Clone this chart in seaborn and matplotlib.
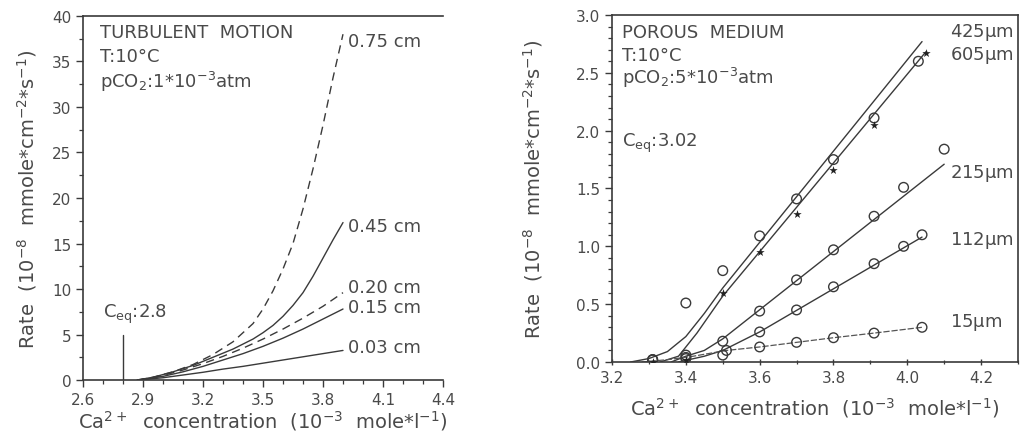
import numpy as np
import pandas as pd
import matplotlib
matplotlib.use("Agg")
import matplotlib.pyplot as plt
from matplotlib.ticker import MultipleLocator
import seaborn as sns

# ---------------- data: left panel (turbulent motion) ----------------
x075 = [2.87, 2.95, 3.05, 3.15, 3.25, 3.35, 3.45, 3.50, 3.55, 3.60, 3.65, 3.70, 3.75, 3.80, 3.85, 3.90]
y075 = [0.0, 0.3, 0.9, 1.7, 2.8, 4.2, 6.2, 7.8, 9.8, 12.2, 15.0, 18.8, 23.2, 28.0, 33.2, 38.0]
x045 = [2.87, 2.95, 3.05, 3.15, 3.25, 3.35, 3.45, 3.50, 3.55, 3.60, 3.65, 3.70, 3.75, 3.80, 3.85, 3.90]
y045 = [0.0, 0.3, 0.9, 1.6, 2.5, 3.4, 4.5, 5.2, 6.0, 7.0, 8.2, 9.6, 11.4, 13.4, 15.4, 17.3]
x020 = [2.88, 3.0, 3.1, 3.2, 3.3, 3.4, 3.5, 3.6, 3.7, 3.8, 3.9]
y020 = [0.0, 0.5, 1.1, 1.8, 2.6, 3.5, 4.5, 5.6, 6.8, 8.1, 9.6]
x015 = [2.88, 3.0, 3.1, 3.2, 3.3, 3.4, 3.5, 3.6, 3.7, 3.8, 3.9]
y015 = [0.0, 0.4, 0.9, 1.5, 2.2, 2.9, 3.7, 4.6, 5.6, 6.7, 7.8]
x003 = [2.88, 3.0, 3.1, 3.2, 3.3, 3.4, 3.5, 3.6, 3.7, 3.8, 3.9]
y003 = [0.0, 0.25, 0.55, 0.85, 1.2, 1.5, 1.85, 2.2, 2.55, 2.9, 3.25]
left_labels = ["0.75 cm", "0.45 cm", "0.20 cm", "0.15 cm", "0.03 cm"]
left_label_y = [37.3, 16.9, 10.2, 8.0, 3.6]
ceq_left = 2.8
ceq_left_top = 4.9

# ---------------- data: right panel (porous medium) ----------------
p425_x = [3.31, 3.40, 3.50, 3.60, 3.70, 3.80, 3.91, 4.03]
p425_y = [0.02, 0.51, 0.79, 1.09, 1.41, 1.75, 2.11, 2.60]
l425_x = [3.25, 3.30, 3.35, 3.40, 3.45, 3.50, 4.04]
l425_y = [0.0, 0.03, 0.09, 0.22, 0.42, 0.64, 2.77]

p605_x = [3.31, 3.40, 3.50, 3.60, 3.70, 3.80, 3.91, 4.05]
p605_y = [0.0, 0.02, 0.60, 0.95, 1.28, 1.66, 2.05, 2.67]
l605_x = [3.33, 3.38, 3.43, 3.50, 4.05]
l605_y = [0.0, 0.05, 0.25, 0.57, 2.68]

p215_x = [3.31, 3.40, 3.50, 3.60, 3.70, 3.80, 3.91, 3.99, 4.10]
p215_y = [0.02, 0.06, 0.18, 0.44, 0.71, 0.97, 1.26, 1.51, 1.84]
l215_x = [3.36, 3.40, 3.45, 3.50, 4.10]
l215_y = [0.0, 0.05, 0.10, 0.20, 1.71]

p112_x = [3.40, 3.50, 3.60, 3.70, 3.80, 3.91, 3.99, 4.04]
p112_y = [0.03, 0.06, 0.26, 0.45, 0.65, 0.85, 1.00, 1.10]
l112_x = [3.38, 3.45, 3.50, 3.60, 4.04]
l112_y = [0.0, 0.05, 0.10, 0.26, 1.08]

p15_x = [3.31, 3.40, 3.51, 3.60, 3.70, 3.80, 3.91, 4.04]
p15_y = [0.02, 0.04, 0.10, 0.13, 0.17, 0.21, 0.25, 0.30]
l15_x = [3.28, 3.35, 3.42, 3.51, 3.60, 3.70, 3.80, 3.91, 4.04]
l15_y = [0.0, 0.02, 0.05, 0.10, 0.13, 0.17, 0.21, 0.25, 0.30]

right_labels = ["425$\\mu$m", "605$\\mu$m", "215$\\mu$m", "112$\\mu$m", "15$\\mu$m"]
right_label_y = [2.86, 2.66, 1.64, 1.06, 0.35]

# ---------------- style ----------------
sns.set_theme(style="ticks")
plt.rcParams["font.family"] = ["DejaVu Sans"]
plt.rcParams["mathtext.default"] = "regular"
INK = "#3a3a3a"
TXT = "#4a4a4a"
FS = 11      # tick labels
FT = 13      # in-plot text
FL = 14      # axis labels

fig = plt.figure(figsize=(10.29, 4.39), dpi=100)
axL = fig.add_axes([0.0807, 0.1321, 0.3498, 0.8292])
axR = fig.add_axes([0.5948, 0.1731, 0.3945, 0.7905])

def style_axes(ax):
    for s in ax.spines.values():
        s.set_color(INK)
        s.set_linewidth(1.2)
    ax.tick_params(which="both", colors=INK, labelcolor=TXT, labelsize=FS)
    ax.tick_params(which="major", length=5, width=1.0)
    ax.tick_params(which="minor", length=3, width=0.9)

XLAB = "Ca$^{2+}$  concentration  (10$^{-3}$  mole$*$l$^{-1}$)"
YLAB = "Rate  (10$^{-8}$  mmole$*$cm$^{-2}$$*$s$^{-1}$)"

# ---------------- left panel ----------------
lw = 1.0
sns.lineplot(x=x075, y=y075, ax=axL, color=INK, lw=lw, linestyle=(0, (6, 4)))
sns.lineplot(x=x045, y=y045, ax=axL, color=INK, lw=lw)
sns.lineplot(x=x020, y=y020, ax=axL, color=INK, lw=lw, linestyle=(0, (6, 4)))
sns.lineplot(x=x015, y=y015, ax=axL, color=INK, lw=lw)
sns.lineplot(x=x003, y=y003, ax=axL, color=INK, lw=lw)
axL.plot([ceq_left, ceq_left], [0, ceq_left_top], color=INK, lw=1.0)
axL.text(2.7, 7.3, "C$_{eq}$:2.8", fontsize=FT, color=TXT, va="center", ha="left")
for lab, yy in zip(left_labels, left_label_y):
    axL.text(3.925, yy, lab, fontsize=FT, color=TXT, va="center", ha="left")
axL.text(2.685, 38.2, "TURBULENT  MOTION", fontsize=FT, color=TXT, va="center")
axL.text(2.685, 35.6, "T:10°C", fontsize=FT, color=TXT, va="center")
axL.text(2.685, 32.9, "pCO$_2$:1$*$10$^{-3}$atm", fontsize=FT, color=TXT, va="center")

axL.set_xlim(2.6, 4.4)
axL.set_ylim(0, 40)
axL.set_xticks([2.6, 2.9, 3.2, 3.5, 3.8, 4.1, 4.4])
axL.set_xticklabels(["2.6", "2.9", "3.2", "3.5", "3.8", "4.1", "4.4"])
axL.xaxis.set_minor_locator(MultipleLocator(0.1))
axL.yaxis.set_major_locator(MultipleLocator(5))
axL.yaxis.set_minor_locator(MultipleLocator(2.5))
axL.spines["right"].set_visible(False)
style_axes(axL)
axL.set_xlabel(XLAB, fontsize=FL, color=TXT, labelpad=1)
axL.set_ylabel(YLAB, fontsize=FL, color=TXT, labelpad=9)

# ---------------- right panel ----------------
sns.lineplot(x=l425_x, y=l425_y, ax=axR, color=INK, lw=lw)
sns.lineplot(x=l605_x, y=l605_y, ax=axR, color=INK, lw=lw)
sns.lineplot(x=l215_x, y=l215_y, ax=axR, color=INK, lw=lw)
sns.lineplot(x=l112_x, y=l112_y, ax=axR, color=INK, lw=lw)
sns.lineplot(x=l15_x, y=l15_y, ax=axR, color="#555555", lw=0.9, linestyle=(0, (5, 1.5)))

circ = dict(marker="o", s=48, facecolor="none", edgecolor=INK, linewidth=1.0, ax=axR, zorder=3)
sns.scatterplot(x=p425_x, y=p425_y, **circ)
sns.scatterplot(x=p215_x, y=p215_y, **circ)
sns.scatterplot(x=p112_x, y=p112_y, **circ)
sns.scatterplot(x=p15_x, y=p15_y, **circ)
sns.scatterplot(x=p605_x, y=p605_y, ax=axR, marker="*", s=40, color="#222222", linewidth=0, zorder=4)

for lab, yy in zip(right_labels, right_label_y):
    axR.text(4.115, yy, lab, fontsize=FT, color=TXT, va="center", ha="left")
axR.text(3.227, 2.85, "POROUS  MEDIUM", fontsize=FT, color=TXT, va="center")
axR.text(3.227, 2.65, "T:10°C", fontsize=FT, color=TXT, va="center")
axR.text(3.227, 2.46, "pCO$_2$:5$*$10$^{-3}$atm", fontsize=FT, color=TXT, va="center")
axR.text(3.227, 1.90, "C$_{eq}$:3.02", fontsize=FT, color=TXT, va="center")

axR.set_xlim(3.2, 4.3)
axR.set_ylim(0, 3.0)
axR.set_xticks([3.2, 3.4, 3.6, 3.8, 4.0, 4.2])
axR.set_xticklabels(["3.2", "3.4", "3.6", "3.8", "4.0", "4.2"])
axR.xaxis.set_minor_locator(MultipleLocator(0.1))
axR.set_yticks([0.0, 0.5, 1.0, 1.5, 2.0, 2.5, 3.0])
axR.set_yticklabels(["0.0", "0.5", "1.0", "1.5", "2.0", "2.5", "3.0"])
axR.yaxis.set_minor_locator(MultipleLocator(0.1))
style_axes(axR)
axR.tick_params(axis="x", which="both", direction="inout")
axR.set_xlabel(XLAB, fontsize=FL, color=TXT, labelpad=7)
axR.set_ylabel(YLAB, fontsize=FL, color=TXT, labelpad=22)

fig.savefig("out.png", dpi=100)
